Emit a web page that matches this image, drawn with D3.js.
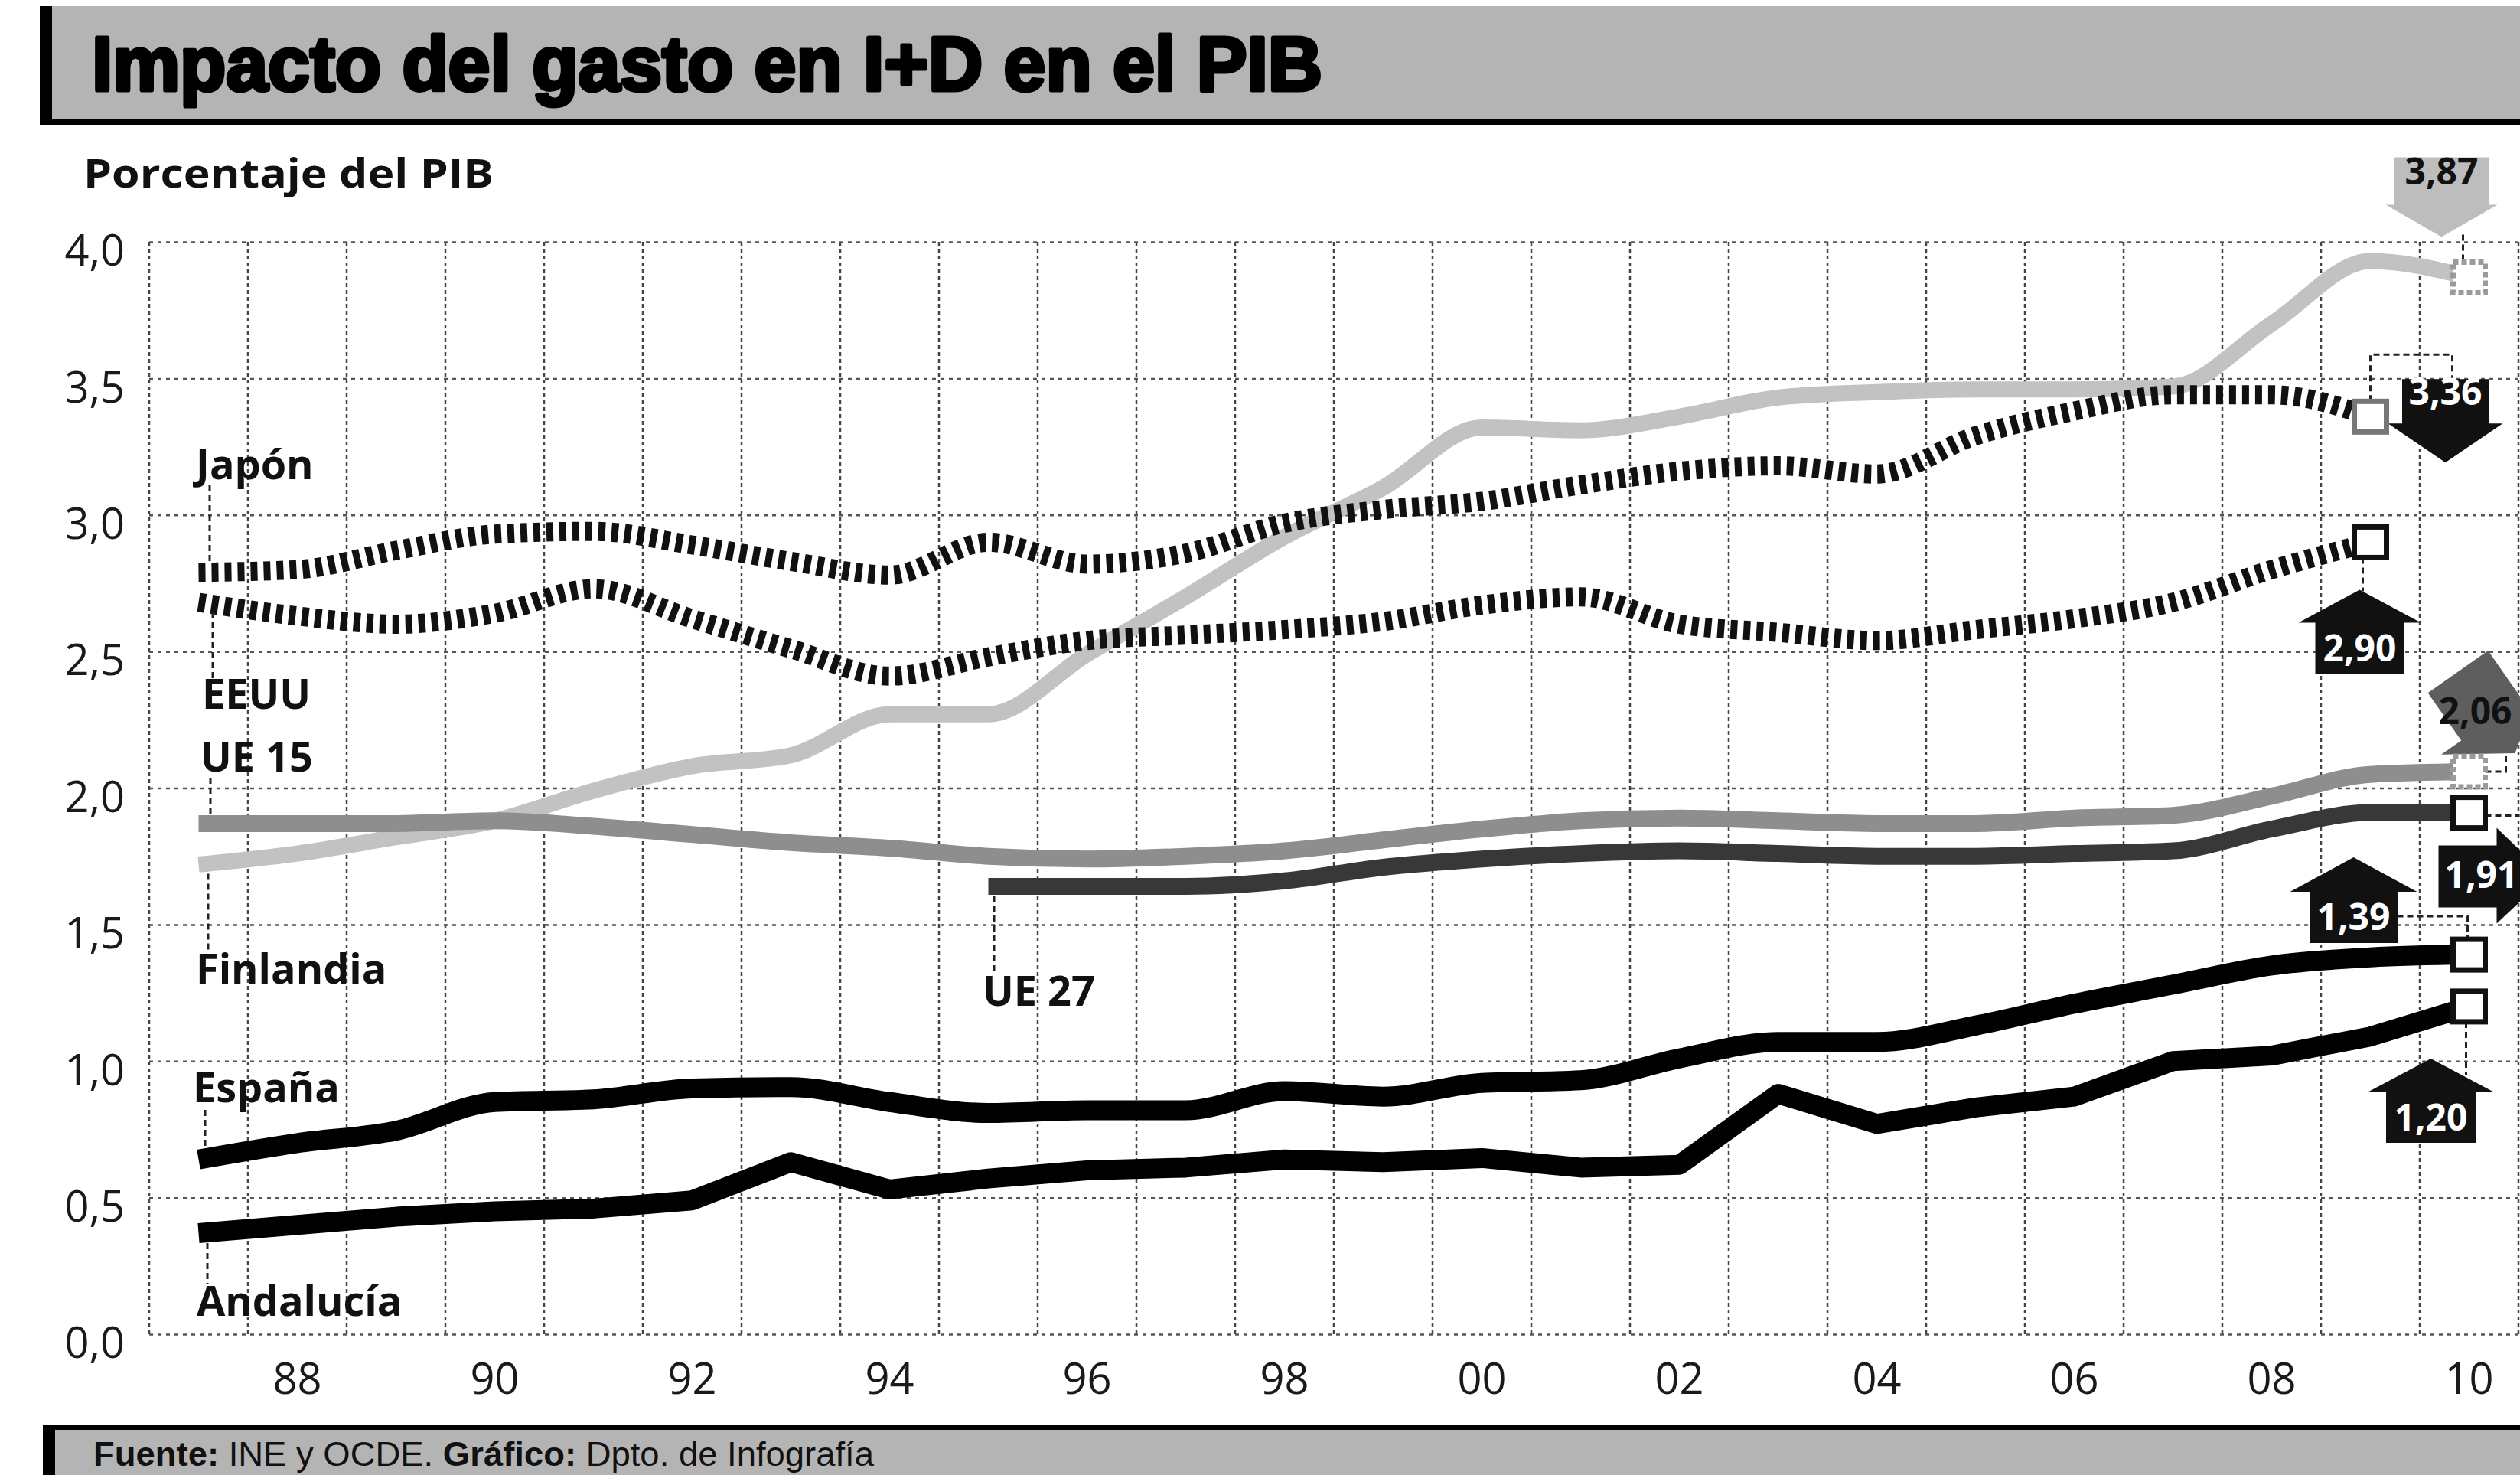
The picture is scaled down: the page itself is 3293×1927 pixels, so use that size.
<!DOCTYPE html>
<html>
<head>
<meta charset="utf-8">
<script src="https://cdn.jsdelivr.net/npm/d3@7"></script>
<style>
  body { margin: 0; background: #fff; }
  svg { display: block; }
</style>
</head>
<body>
<svg id="chart"></svg>
<script>
// datos
const years = [1987, 1988, 1989, 1990, 1991, 1992, 1993, 1994, 1995, 1996, 1997, 1998,
               1999, 2000, 2001, 2002, 2003, 2004, 2005, 2006, 2007, 2008, 2009, 2010];
const yearsTo2009 = [1987, 1988, 1989, 1990, 1991, 1992, 1993, 1994, 1995, 1996, 1997, 1998,
                     1999, 2000, 2001, 2002, 2003, 2004, 2005, 2006, 2007, 2008, 2009];
const yearsUE27 = [1995, 1996, 1997, 1998, 1999, 2000, 2001, 2002, 2003, 2004, 2005, 2006,
                   2007, 2008, 2009, 2010];

const finlandia = [1.72, 1.76, 1.82, 1.88, 1.99, 2.08, 2.12, 2.27, 2.27, 2.49, 2.70, 2.92,
                   3.10, 3.32, 3.31, 3.36, 3.43, 3.45, 3.46, 3.46, 3.47, 3.70, 3.93, 3.87];
const japon = [2.79, 2.80, 2.87, 2.93, 2.94, 2.89, 2.83, 2.78, 2.90, 2.82, 2.86, 2.97,
               3.02, 3.05, 3.11, 3.16, 3.18, 3.15, 3.29, 3.38, 3.44, 3.44, 3.36];
const eeuu = [2.68, 2.63, 2.60, 2.64, 2.73, 2.62, 2.51, 2.41, 2.48, 2.54, 2.56, 2.58,
              2.61, 2.67, 2.70, 2.60, 2.57, 2.54, 2.58, 2.62, 2.68, 2.80, 2.90];
const ue15 = [1.87, 1.87, 1.87, 1.88, 1.86, 1.83, 1.80, 1.78, 1.75, 1.74, 1.75, 1.77,
              1.81, 1.85, 1.88, 1.89, 1.88, 1.87, 1.87, 1.89, 1.90, 1.97, 2.05, 2.06];
const ue27 = [1.64, 1.64, 1.64, 1.66, 1.71, 1.74, 1.76, 1.77, 1.76, 1.75, 1.75, 1.76,
              1.77, 1.85, 1.91, 1.91];
const espana = [0.64, 0.70, 0.745, 0.85, 0.86, 0.90, 0.905, 0.85, 0.81, 0.82, 0.82, 0.89,
                0.87, 0.92, 0.93, 1.01, 1.07, 1.07, 1.13, 1.21, 1.28, 1.35, 1.38, 1.39];
const andalucia = [0.37, 0.40, 0.43, 0.45, 0.46, 0.49, 0.63, 0.53, 0.57, 0.60, 0.61, 0.64,
                   0.63, 0.645, 0.61, 0.62, 0.88, 0.77, 0.83, 0.87, 1.00, 1.02, 1.09, 1.20];

const xTickYears = [1988, 1990, 1992, 1994, 1996, 1998, 2000, 2002, 2004, 2006, 2008, 2010];
const xTickLabels = ["88", "90", "92", "94", "96", "98", "00", "02", "04", "06", "08", "10"];
const yTicks = [0, 0.5, 1, 1.5, 2, 2.5, 3, 3.5, 4];
const yTickLabels = ["0,0", "0,5", "1,0", "1,5", "2,0", "2,5", "3,0", "3,5", "4,0"];

const W = 3293, H = 1927;
const svg = d3.select("#chart").attr("width", W).attr("height", H);

const plotLeft = 195, plotRight = 3291, plotTop = 316, plotBottom = 1743;

// escalas
const x = d3.scaleBand().domain(years).range([plotLeft, plotRight]);
const cx = yr => x(yr) + x.bandwidth() / 2;
const y = d3.scaleLinear().domain([0, 4]).range([plotBottom, plotTop]);

const fmt = v => v.toFixed(2).replace(".", ",");

// rejilla vertical (limites de cada año)
const edges = years.map(d => x(d)).concat([plotRight]);
svg.append("g")
  .selectAll("line")
  .data(edges)
  .join("line")
    .attr("x1", d => d).attr("x2", d => d)
    .attr("y1", plotTop).attr("y2", plotBottom)
    .attr("stroke", "#444").attr("stroke-width", 2.5)
    .attr("stroke-dasharray", "5,4");

// eje Y con rejilla horizontal
const yAxis = svg.append("g")
    .attr("transform", `translate(${plotLeft},0)`)
    .call(d3.axisLeft(y)
      .tickValues(yTicks)
      .tickFormat((d, i) => yTickLabels[i])
      .tickSize(-(plotRight - plotLeft))
      .tickPadding(32));
yAxis.select(".domain").remove();
yAxis.selectAll(".tick line")
    .attr("stroke", "#555").attr("stroke-width", 2.5)
    .attr("stroke-dasharray", "5,6");
yAxis.selectAll(".tick text")
    .attr("dy", "0.55em")
    .attr("font-family", "'Open Sans', sans-serif")
    .attr("font-size", 56).attr("fill", "#1a1a1a");

// eje X
const xAxis = svg.append("g")
    .attr("transform", `translate(0,${plotBottom})`)
    .call(d3.axisBottom(x)
      .tickValues(xTickYears)
      .tickFormat((d, i) => xTickLabels[i])
      .tickSize(0)
      .tickPadding(38));
xAxis.select(".domain").remove();
xAxis.selectAll(".tick text")
    .attr("font-family", "'Open Sans', sans-serif")
    .attr("font-size", 56).attr("fill", "#1a1a1a");

// series
const series = [
  { key: "finlandia", yrs: years, vals: finlandia, color: "#c2c2c2", width: 21, dash: null, smooth: true },
  { key: "ue15", yrs: years, vals: ue15, color: "#8e8e8e", width: 22, dash: null, smooth: true },
  { key: "ue27", yrs: yearsUE27, vals: ue27, color: "#383838", width: 22, dash: null, smooth: true },
  { key: "japon", yrs: yearsTo2009, vals: japon, color: "#111", width: 25, dash: "9,8", smooth: true },
  { key: "eeuu", yrs: yearsTo2009, vals: eeuu, color: "#111", width: 25, dash: "9,8", smooth: true },
  { key: "espana", yrs: years, vals: espana, color: "#000", width: 26, dash: null, smooth: true },
  { key: "andalucia", yrs: years, vals: andalucia, color: "#000", width: 26, dash: null, smooth: false }
];
const byKey = {};
series.forEach(s => {
  s.pts = s.yrs.map((yr, i) => ({ yr: yr, v: s.vals[i] }));
  byKey[s.key] = s;
});

const lineSmooth = d3.line().x(d => cx(d.yr)).y(d => y(d.v)).curve(d3.curveMonotoneX);
const lineStraight = d3.line().x(d => cx(d.yr)).y(d => y(d.v));

svg.append("g")
  .selectAll("path")
  .data(series)
  .join("path")
    .attr("d", d => (d.smooth ? lineSmooth : lineStraight)(d.pts))
    .attr("fill", "none")
    .attr("stroke", d => d.color)
    .attr("stroke-width", d => d.width)
    .attr("stroke-dasharray", d => d.dash)
    .attr("stroke-linejoin", "round");

// etiquetas de series con lineas guia
const firstY = k => y(byKey[k].vals[0]);
const labels = [
  { text: "Japón", x: 256, base: 626, lx: 274, l1: 634, l2: firstY("japon") - 13 },
  { text: "EEUU", x: 264, base: 926, lx: 278, l1: firstY("eeuu") + 13, l2: 886 },
  { text: "UE 15", x: 262, base: 1008, lx: 275, l1: 1016, l2: firstY("ue15") - 12 },
  { text: "Finlandia", x: 256, base: 1285, lx: 272, l1: firstY("finlandia") + 12, l2: 1244 },
  { text: "España", x: 252, base: 1440, lx: 268, l1: 1450, l2: firstY("espana") - 13 },
  { text: "Andalucía", x: 257, base: 1719, lx: 271, l1: firstY("andalucia") + 13, l2: 1677 },
  { text: "UE 27", x: 1284, base: 1314, lx: 1299, l1: y(ue27[0]) + 12, l2: 1268 }
];
const lab = svg.append("g");
lab.selectAll("line")
  .data(labels)
  .join("line")
    .attr("x1", d => d.lx).attr("x2", d => d.lx)
    .attr("y1", d => d.l1).attr("y2", d => d.l2)
    .attr("stroke", "#222").attr("stroke-width", 3)
    .attr("stroke-dasharray", "8,5");
lab.selectAll("text")
  .data(labels)
  .join("text")
    .attr("x", d => d.x).attr("y", d => d.base)
    .attr("font-family", "'Open Sans', sans-serif")
    .attr("font-weight", 700).attr("font-size", 54)
    .attr("fill", "#111")
    .text(d => d.text);

// cuadrados finales y flechas con el ultimo valor
const ann = svg.append("g");
const dashed = (g, pts) => g.append("path")
    .attr("d", d3.line()(pts))
    .attr("fill", "none").attr("stroke", "#222")
    .attr("stroke-width", 3).attr("stroke-dasharray", "8,5");

function endPoint(k) {
  const s = byKey[k];
  const i = s.vals.length - 1;
  return { x: cx(s.yrs[i]), y: y(s.vals[i]), v: s.vals[i] };
}

// flecha vertical: caja + triangulo
function vArrow(g, c, tipY, baseY, boxEnd, boxW, baseW, fill, txtFill, label) {
  const up = tipY < baseY;
  const pts = [
    [c, tipY], [c + baseW / 2, baseY], [c + boxW / 2, baseY],
    [c + boxW / 2, boxEnd], [c - boxW / 2, boxEnd], [c - boxW / 2, baseY],
    [c - baseW / 2, baseY]
  ];
  g.append("polygon").attr("points", pts.join(" ")).attr("fill", fill);
  g.append("text")
    .attr("x", c).attr("y", (baseY + boxEnd) / 2 + (up ? 4 : -8))
    .attr("text-anchor", "middle").attr("dominant-baseline", "middle")
    .attr("font-family", "'Open Sans', sans-serif")
    .attr("font-weight", 700).attr("font-size", 48)
    .attr("fill", txtFill)
    .text(label);
}

function square(g, p, stroke, dash) {
  g.append("rect")
    .attr("x", p.x - 21).attr("y", p.y - 20)
    .attr("width", 42).attr("height", 40)
    .attr("fill", "#fff").attr("stroke", stroke)
    .attr("stroke-width", 7).attr("stroke-dasharray", dash);
}

// Finlandia
let p = endPoint("finlandia");
dashed(ann, [[p.x - 8, p.y - 56], [p.x - 8, p.y - 21]]);
vArrow(ann, p.x - 36, p.y - 53, p.y - 95, p.y - 157, 124, 146, "#bdbdbd", "#111", fmt(p.v));
square(ann, p, "#9a9a9a", "7,4");

// Japon
p = endPoint("japon");
dashed(ann, [[p.x, p.y - 20], [p.x, p.y - 81], [p.x + 107, p.y - 81], [p.x + 107, p.y - 49]]);
vArrow(ann, p.x + 98, p.y + 60, p.y + 9, p.y - 49, 113, 150, "#111", "#fff", fmt(p.v));
square(ann, p, "#777", null);

// EEUU
p = endPoint("eeuu");
dashed(ann, [[p.x - 10, p.y + 20], [p.x - 10, p.y + 64]]);
vArrow(ann, p.x - 14, p.y + 62, p.y + 105, p.y + 172, 116, 160, "#111", "#fff", fmt(p.v));
square(ann, p, "#111", null);

// UE 15 (flecha gris inclinada, cortada por el borde)
p = endPoint("ue15");
dashed(ann, [[p.x + 21, p.y], [p.x + 48, p.y], [p.x + 48, p.y - 22]]);
const g15 = ann.append("g")
    .attr("transform", `translate(${p.x + 60},${p.y - 24}) rotate(-35)`);
g15.append("polygon")
    .attr("points", [[0, 0], [80, -54], [48, -54], [48, -130], [-48, -130], [-48, -54], [-80, -54]].join(" "))
    .attr("fill", "#5e5e5e");
ann.append("text")
    .attr("x", p.x - 40).attr("y", p.y - 62)
    .attr("font-family", "'Open Sans', sans-serif")
    .attr("font-weight", 700).attr("font-size", 48)
    .attr("fill", "#111")
    .text(fmt(p.v));
square(ann, p, "#9a9a9a", "7,4");

// UE 27 (flecha a la derecha)
p = endPoint("ue27");
dashed(ann, [[p.x + 21, p.y + 4], [p.x + 66, p.y + 4]]);
ann.append("polygon")
    .attr("points", [[p.x - 40, p.y + 43], [p.x + 36, p.y + 43], [p.x + 36, p.y + 20],
                     [p.x + 102, p.y + 83], [p.x + 36, p.y + 145], [p.x + 36, p.y + 124],
                     [p.x - 40, p.y + 124]].join(" "))
    .attr("fill", "#111");
ann.append("text")
    .attr("x", p.x + 16).attr("y", p.y + 86)
    .attr("text-anchor", "middle").attr("dominant-baseline", "middle")
    .attr("font-family", "'Open Sans', sans-serif")
    .attr("font-weight", 700).attr("font-size", 48)
    .attr("fill", "#fff")
    .text(fmt(p.v));
square(ann, p, "#111", null);

// España
p = endPoint("espana");
dashed(ann, [[p.x - 94, p.y - 50], [p.x - 2, p.y - 50], [p.x - 2, p.y - 20]]);
vArrow(ann, p.x - 151, p.y - 127, p.y - 82, p.y - 15, 115, 166, "#111", "#fff", fmt(p.v));
square(ann, p, "#111", null);

// Andalucía
p = endPoint("andalucia");
dashed(ann, [[p.x - 4, p.y + 20], [p.x - 4, p.y + 89]]);
vArrow(ann, p.x - 50, p.y + 68, p.y + 112, p.y + 178, 117, 166, "#111", "#fff", fmt(p.v));
square(ann, p, "#111", null);

// titulo del eje
svg.append("text")
    .attr("x", 109).attr("y", 245)
    .attr("font-family", "'Open Sans', sans-serif")
    .attr("font-weight", 700).attr("font-size", 52)
    .attr("textLength", 536).attr("lengthAdjust", "spacingAndGlyphs")
    .attr("fill", "#111")
    .text("Porcentaje del PIB");

// cabecera
const head = svg.append("g");
head.append("rect").attr("x", 52).attr("y", 8).attr("width", W - 52).attr("height", 152).attr("fill", "#b4b4b4");
head.append("rect").attr("x", 52).attr("y", 8).attr("width", 16).attr("height", 155).attr("fill", "#000");
head.append("rect").attr("x", 52).attr("y", 156).attr("width", W - 52).attr("height", 7).attr("fill", "#000");
head.append("text")
    .attr("x", 120).attr("y", 118)
    .attr("font-family", "'Liberation Sans Narrow', 'Liberation Sans', sans-serif")
    .attr("font-weight", 700).attr("font-size", 100)
    .attr("textLength", 1608).attr("lengthAdjust", "spacingAndGlyphs")
    .attr("fill", "#000").attr("stroke", "#000").attr("stroke-width", 5)
    .attr("stroke-linejoin", "round")
    .text("Impacto del gasto en I+D en el PIB");

// pie
const foot = svg.append("g");
foot.append("rect").attr("x", 56).attr("y", 1862).attr("width", W - 56).attr("height", H - 1862).attr("fill", "#b4b4b4");
foot.append("rect").attr("x", 56).attr("y", 1862).attr("width", W - 56).attr("height", 6).attr("fill", "#000");
foot.append("rect").attr("x", 56).attr("y", 1862).attr("width", 16).attr("height", H - 1862).attr("fill", "#000");
const ft = foot.append("text")
    .attr("x", 122).attr("y", 1915)
    .attr("font-family", "'Liberation Sans Narrow', 'Liberation Sans', sans-serif")
    .attr("font-size", 44)
    .attr("textLength", 1020).attr("lengthAdjust", "spacingAndGlyphs")
    .attr("fill", "#111");
ft.append("tspan").attr("font-weight", 700).text("Fuente: ");
ft.append("tspan").text("INE y OCDE. ");
ft.append("tspan").attr("font-weight", 700).text("Gráfico: ");
ft.append("tspan").text("Dpto. de Infografía");
</script>
</body>
</html>
